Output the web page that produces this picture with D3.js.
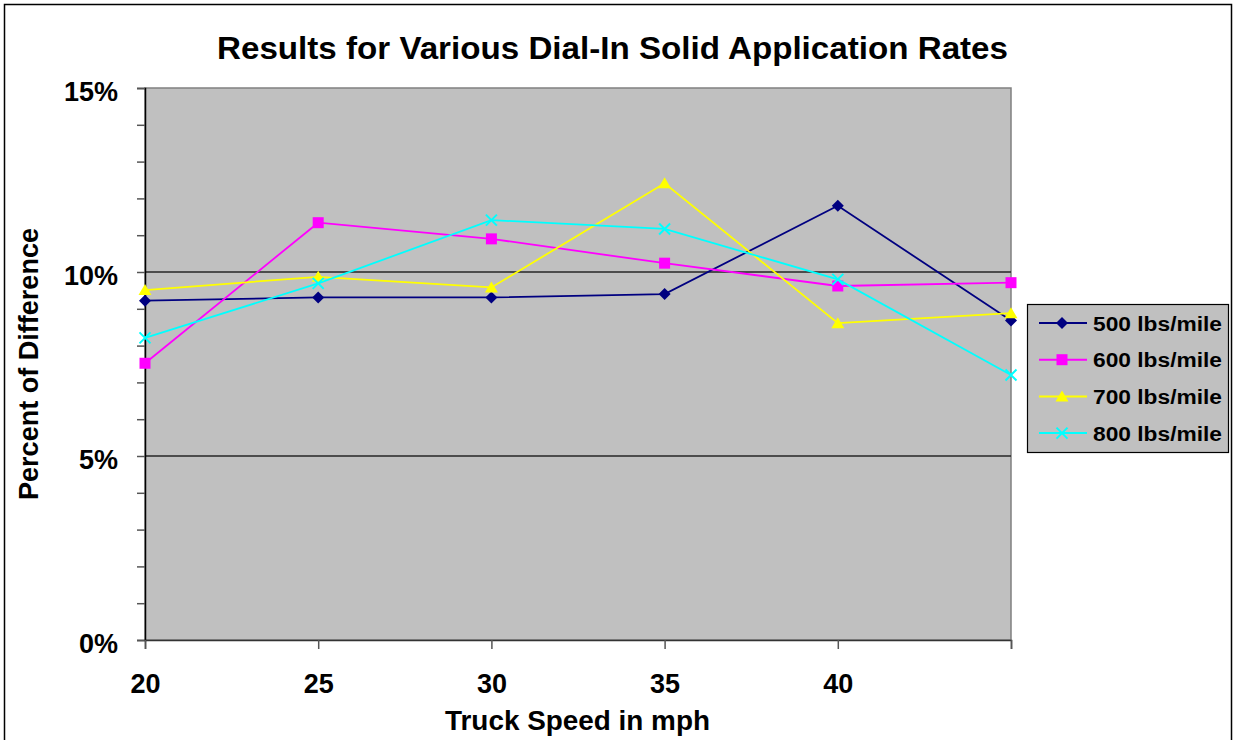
<!DOCTYPE html>
<html>
<head>
<meta charset="utf-8">
<script src="https://cdn.jsdelivr.net/npm/d3@7"></script>
<style>
  body { margin: 0; background: #fff; }
  svg { display: block; font-family: Arial, "Liberation Sans", sans-serif; font-weight: bold; }
</style>
</head>
<body>
<div id="chart"></div>
<script>
// data (percent of difference)
const speeds = [20, 25, 30, 35, 40, 45];
const tickLabels = ['20', '25', '30', '35', '40', ''];
const seriesNames = ['500 lbs/mile', '600 lbs/mile', '700 lbs/mile', '800 lbs/mile'];
const rate500 = [9.22, 9.31, 9.31, 9.40, 11.80, 8.68];
const rate600 = [7.52, 11.34, 10.90, 10.24, 9.62, 9.71];
const rate700 = [9.51, 9.87, 9.58, 12.41, 8.61, 8.88];
const rate800 = [8.21, 9.69, 11.41, 11.17, 9.80, 7.20];
const colors = ['#000080', '#ff00ff', '#ffff00', '#00ffff'];
const shapes = ['diamond', 'square', 'triangle', 'cross'];

const series = [rate500, rate600, rate700, rate800].map((vals, i) => ({
	name: seriesNames[i],
	color: colors[i],
	shape: shapes[i],
	values: vals.map((v, j) => ({ speed: speeds[j], value: v }))
}));

// dimension stuff
const width = 1233;
const height = 740;
const plot = { left: 145, top: 88, right: 1011, bottom: 640 };

const scaleX = d3.scalePoint().domain(speeds).range([plot.left, plot.right]);
const scaleY = d3.scaleLinear().domain([0, 15]).range([plot.bottom, plot.top]);

// marker paths, centred on 0,0
function markerPath(shape) {
	if (shape === 'diamond') return 'M0,-6L6,0L0,6L-6,0Z';
	if (shape === 'square') return 'M-5.5,-5.5H5.5V5.5H-5.5Z';
	if (shape === 'triangle') return 'M0,-6L6.5,5H-6.5Z';
	return 'M-5.5,-5.5L5.5,5.5M5.5,-5.5L-5.5,5.5';
}

const $svg = d3.select('#chart').append('svg')
	.attr('width', width)
	.attr('height', height);

// outer chart border
$svg.append('rect')
	.attr('x', 4.5).attr('y', 4.5)
	.attr('width', 1227).attr('height', 760)
	.attr('fill', '#fff')
	.attr('stroke', '#000')
	.attr('stroke-width', 1.5);

// plot background + border
$svg.append('rect')
	.attr('x', plot.left).attr('y', plot.top)
	.attr('width', plot.right - plot.left).attr('height', plot.bottom - plot.top)
	.attr('fill', '#c0c0c0')
	.attr('stroke', '#808080')
	.attr('stroke-width', 1.5);

// gridlines at major ticks
$svg.append('g')
	.selectAll('line')
	.data([5, 10])
	.join('line')
	.attr('x1', plot.left).attr('x2', plot.right)
	.attr('y1', d => scaleY(d)).attr('y2', d => scaleY(d))
	.attr('stroke', '#262626')
	.attr('stroke-width', 1.3);

// y axis
const axisY = d3.axisLeft(scaleY)
	.tickValues(d3.range(0, 16))
	.tickSize(8)
	.tickPadding(19)
	.tickFormat(d => (d % 5 === 0 ? `${d}%` : ''));

const $axisY = $svg.append('g')
	.attr('transform', `translate(${plot.left},0)`)
	.call(axisY);
$axisY.select('.domain').attr('stroke', '#000').attr('stroke-width', 1.5);
$axisY.selectAll('.tick line').attr('stroke', '#555').attr('stroke-width', 1.5);
$axisY.selectAll('.tick text')
	.attr('font-size', 27)
	.attr('font-family', 'Arial, "Liberation Sans", sans-serif')
	.attr('font-weight', 'bold')
	.attr('fill', '#000')
	.attr('dy', '0.48em');

// x axis
const axisX = d3.axisBottom(scaleX)
	.tickSize(9)
	.tickPadding(25)
	.tickFormat((d, i) => tickLabels[i]);

const $axisX = $svg.append('g')
	.attr('transform', `translate(0,${plot.bottom})`)
	.call(axisX);
$axisX.select('.domain').attr('stroke', '#333').attr('stroke-width', 1.5);
$axisX.selectAll('.tick line').attr('stroke', '#555').attr('stroke-width', 1.5);
$axisX.selectAll('.tick text')
	.attr('font-size', 27)
	.attr('font-family', 'Arial, "Liberation Sans", sans-serif')
	.attr('font-weight', 'bold')
	.attr('fill', '#000');

// lines
const line = d3.line()
	.x(d => scaleX(d.speed))
	.y(d => scaleY(d.value));

const $series = $svg.append('g')
	.selectAll('g.series')
	.data(series)
	.join('g')
	.attr('class', 'series');

$series.append('path')
	.attr('d', d => line(d.values))
	.attr('fill', 'none')
	.attr('stroke', d => d.color)
	.attr('stroke-width', 1.8);

$series.selectAll('path.marker')
	.data(d => d.values.map(v => ({ ...v, color: d.color, shape: d.shape })))
	.join('path')
	.attr('class', 'marker')
	.attr('transform', d => `translate(${scaleX(d.speed)},${scaleY(d.value)})`)
	.attr('d', d => markerPath(d.shape))
	.attr('fill', d => (d.shape === 'cross' ? 'none' : d.color))
	.attr('stroke', d => d.color)
	.attr('stroke-width', d => (d.shape === 'cross' ? 2 : 0));

// titles
$svg.append('text')
	.attr('x', 217).attr('y', 59)
	.attr('font-size', 32)
	.attr('textLength', 791)
	.attr('lengthAdjust', 'spacingAndGlyphs')
	.text('Results for Various Dial-In Solid Application Rates');

$svg.append('text')
	.attr('x', 445).attr('y', 730)
	.attr('font-size', 27)
	.attr('textLength', 265)
	.attr('lengthAdjust', 'spacingAndGlyphs')
	.text('Truck Speed in mph');

$svg.append('text')
	.attr('transform', 'translate(38,364) rotate(-90)')
	.attr('text-anchor', 'middle')
	.attr('font-size', 27)
	.attr('textLength', 272)
	.attr('lengthAdjust', 'spacingAndGlyphs')
	.text('Percent of Difference');

// legend
const $legend = $svg.append('g').attr('transform', 'translate(1027,304)');
$legend.append('rect')
	.attr('x', 0.5).attr('y', 0.5)
	.attr('width', 201).attr('height', 148)
	.attr('fill', '#c0c0c0')
	.attr('stroke', '#000')
	.attr('stroke-width', 1.2);

const $item = $legend.selectAll('g.item')
	.data(series)
	.join('g')
	.attr('class', 'item')
	.attr('transform', (d, i) => `translate(0,${19 + i * 36.7})`);

$item.append('line')
	.attr('x1', 12).attr('x2', 60)
	.attr('stroke', d => d.color)
	.attr('stroke-width', 2);

$item.append('path')
	.attr('transform', 'translate(35,0)')
	.attr('d', d => markerPath(d.shape))
	.attr('fill', d => (d.shape === 'cross' ? 'none' : d.color))
	.attr('stroke', d => d.color)
	.attr('stroke-width', d => (d.shape === 'cross' ? 2 : 0));

$item.append('text')
	.attr('x', 66).attr('y', 7.5)
	.attr('font-size', 20)
	.attr('textLength', 129)
	.attr('lengthAdjust', 'spacingAndGlyphs')
	.text(d => d.name);
</script>
</body>
</html>
